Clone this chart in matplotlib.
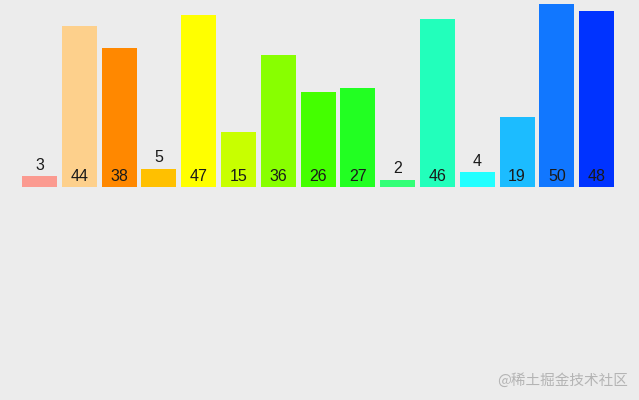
import matplotlib.pyplot as plt

# =========================
# DATA
# =========================

values = [3, 44, 38, 5, 47, 15, 36, 26, 27, 2, 46, 4, 19, 50, 48]
colors = [
    "#fb9a90", "#fdd08c", "#ff8800", "#ffc000", "#ffff00",
    "#c8ff00", "#88ff00", "#44ff00", "#22ff22", "#33ff77",
    "#22ffbb", "#22ffff", "#1cbcff", "#1177ff", "#0033ff",
]
watermark = "@稀土掘金技术社区"

# =========================
# PLOT
# =========================

fig = plt.figure(figsize=(6.39, 4.0), dpi=100)
fig.patch.set_facecolor("#ececec")
ax = fig.add_axes([0, 0, 1, 1])
ax.set_facecolor("#ececec")

x = list(range(len(values)))
ax.bar(x, values, width=0.88, color=colors)

for i, v in zip(x, values):
    y = v + 3.0 if v < 10 else 3.0
    ax.text(i, y, str(v), ha="center", va="center", fontsize=11.5,
            color="#1a1a1a", family="Liberation Sans")

ax.set_xlim(-0.9925, 15.063)
ax.set_ylim(-58.2, 51.1)
ax.axis("off")

fig.text(0.983, 0.05, watermark, ha="right", va="center", fontsize=10.5,
         color="#b4b4b4", family=["Noto Sans CJK SC", "DejaVu Sans"])

fig.savefig("out.png", dpi=100, facecolor=fig.get_facecolor())
